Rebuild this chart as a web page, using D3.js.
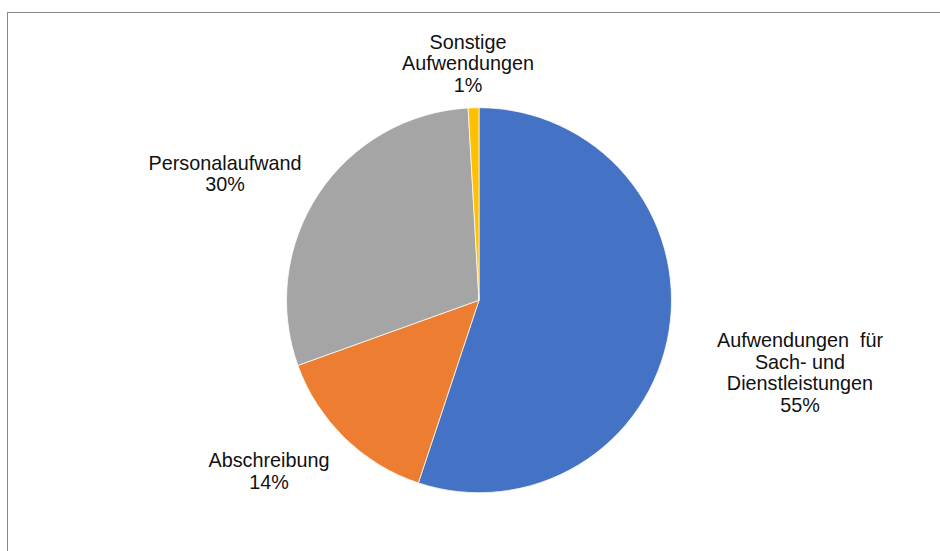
<!DOCTYPE html>
<html>
<head>
<meta charset="utf-8">
<script src="https://cdn.jsdelivr.net/npm/d3@7"></script>
<style>
  html, body { margin: 0; padding: 0; background: #fff; }
  svg { display: block; }
  text { font-family: "Liberation Sans", Arial, sans-serif; }
</style>
</head>
<body>
<svg id="chart" width="940" height="551"></svg>
<script>
// ---- data ----
const categories = ["Aufwendungen  für\nSach- und\nDienstleistungen", "Abschreibung", "Personalaufwand", "Sonstige\nAufwendungen"];
const values = [55.1, 14.4, 29.6, 0.9];
const colors = ["#4472C4", "#ED7D31", "#A5A5A5", "#FFC000"];

// ---- layout (label anchors: center x, first baseline y) ----
const labelLayout = [
  { x: 800, y: 347 },
  { x: 269, y: 467 },
  { x: 225, y: 169.5 },
  { x: 468, y: 48.5 }
];
const W = 940, H = 551;
const cx = 479, cy = 300.2, R = 192.5;
const lineH = 21.7;

const svg = d3.select("#chart");

// chart border (extends beyond the right and bottom of the view)
svg.append("rect")
  .attr("x", 7.5).attr("y", 12.5)
  .attr("width", W + 10).attr("height", H + 10)
  .attr("fill", "#fff")
  .attr("stroke", "#888888").attr("stroke-width", 1);

const data = categories.map((c, i) => ({ name: c, value: values[i], color: colors[i] }));

const pie = d3.pie().sort(null).value(d => d.value);
const arc = d3.arc().innerRadius(0).outerRadius(R);
const arcs = pie(data);

const g = svg.append("g").attr("transform", `translate(${cx},${cy})`);
g.selectAll("path")
  .data(arcs)
  .join("path")
  .attr("d", arc)
  .attr("fill", d => d.data.color)
  .attr("stroke", "#ffffff")
  .attr("stroke-width", 0.75);

const total = d3.sum(values);
const fmt = v => Math.round(v / total * 100) + "%";

svg.selectAll("text.lbl")
  .data(arcs)
  .join("text")
  .attr("class", "lbl")
  .attr("text-anchor", "middle")
  .attr("fill", "#111")
  .style("font-size", "19.8px")
  .style("white-space", "pre")
  .each(function(d, i) {
    const lines = d.data.name.split("\n").concat([fmt(d.data.value)]);
    const t = d3.select(this);
    lines.forEach((ln, k) => {
      t.append("tspan")
        .attr("x", labelLayout[i].x)
        .attr("y", labelLayout[i].y + k * lineH)
        .text(ln);
    });
  });
</script>
</body>
</html>
